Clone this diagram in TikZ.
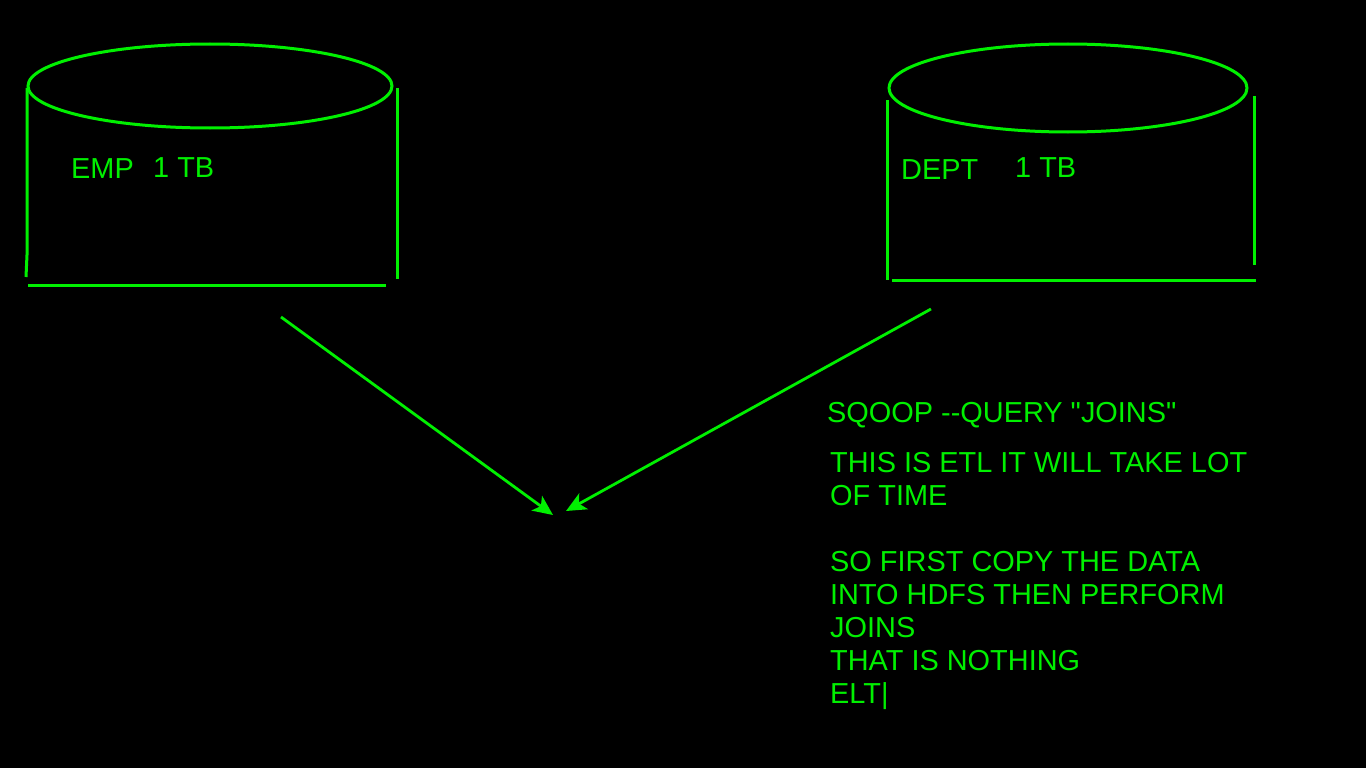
\documentclass[tikz,border=0pt]{standalone}
\usepackage{fontspec}
\setmainfont{Liberation Sans}[Ligatures=TeXOff]
\usetikzlibrary{arrows.meta}
\definecolor{lime}{RGB}{0,240,0}
\begin{document}
\begin{tikzpicture}[x=1pt,y=-1pt,
  shape line/.style={draw=lime,line width=3pt},
  conn/.style={draw=lime,line width=2.8pt,-{Stealth[length=20pt,width=18pt,inset=5pt]}},
  lbl/.style={text=lime,anchor=base west,inner sep=0pt,font=\fontsize{28.9}{33}\selectfont}]
\fill[black] (0,0) rectangle (1366,768);
\useasboundingbox (0,0) rectangle (1366,768);
% EMP cylinder
\draw[shape line] (210,86) ellipse [x radius=182, y radius=42];
\draw[shape line] (27,88) -- (27,255) -- (26,277);
\draw[shape line] (397,88) -- (397,279);
\draw[shape line] (28,285) -- (386,285);
\node[lbl] (emp) at (71,178) {EMP};
\node[lbl] (emptb) at (153,177) {1 TB};
% DEPT cylinder
\draw[shape line] (1068,88) ellipse [x radius=179, y radius=44];
\draw[shape line] (887,100) -- (887,280);
\draw[shape line] (1254,96) -- (1254,265);
\draw[shape line] (892,280) -- (1256,280);
\node[lbl] (dept) at (901,179) {DEPT};
\node[lbl] (depttb) at (1015,177) {1 TB};
% arrows
\coordinate (a1) at (281,317);
\coordinate (a2) at (931,309);
\coordinate (t1) at (553,515);
\coordinate (t2) at (566,511);
\draw[conn] (a1) -- (t1);
\draw[conn] (a2) -- (t2);
% text
\node[lbl] (l0) at (827,422) {SQOOP --QUERY "JOINS"};
\node[lbl] (l1) at (830,472) {THIS IS ETL IT WILL TAKE LOT};
\node[lbl] (l2) at (830,505) {OF TIME};
\node[lbl] (l3) at (830,571) {SO FIRST COPY THE DATA};
\node[lbl] (l4) at (830,604) {INTO HDFS THEN PERFORM};
\node[lbl] (l5) at (830,637) {JOINS};
\node[lbl] (l6) at (830,670) {THAT IS NOTHING};
\node[lbl] (l7) at (830,703) {ELT|};
\end{tikzpicture}
\end{document}
